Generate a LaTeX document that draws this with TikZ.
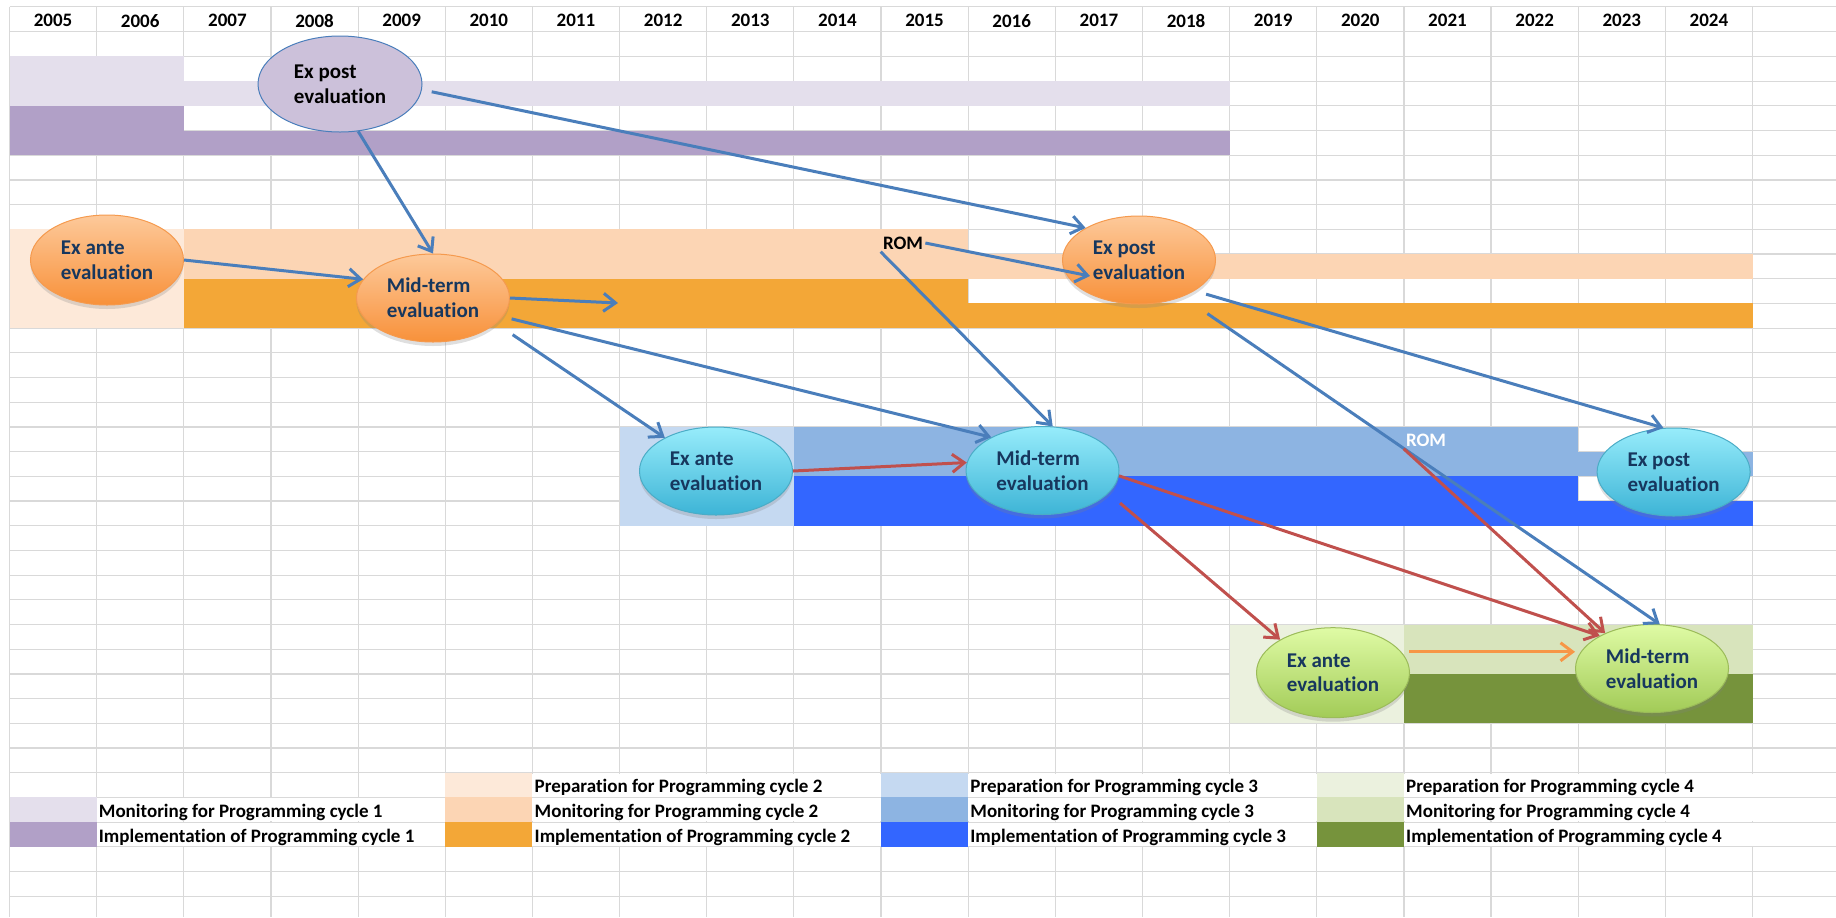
\documentclass[tikz,border=0pt]{standalone}
\usepackage{fontspec}
\setmainfont{Carlito}[Ligatures=NoCommon]
\usetikzlibrary{shapes.geometric,arrows.meta,shadows,calc}

\definecolor{gridgray}{HTML}{D9D9D9}
\definecolor{monone}{HTML}{E4DFEC}
\definecolor{impone}{HTML}{B1A0C7}
\definecolor{preptwo}{HTML}{FDE9D9}
\definecolor{montwo}{HTML}{FCD5B4}
\definecolor{imptwo}{HTML}{F3A737}
\definecolor{prepthree}{HTML}{C5D9F1}
\definecolor{monthree}{HTML}{8DB4E2}
\definecolor{impthree}{HTML}{3366FF}
\definecolor{prepfour}{HTML}{EBF1DE}
\definecolor{monfour}{HTML}{D8E4BC}
\definecolor{impfour}{HTML}{76933C}
\definecolor{linkblue}{HTML}{4A7EBB}
\definecolor{linkred}{HTML}{C0504D}
\definecolor{linkorange}{HTML}{F79646}
\definecolor{evaltext}{HTML}{17375E}
\definecolor{purpleeval}{HTML}{CCC1DA}
\definecolor{orangetop}{HTML}{FDC99A}
\definecolor{orangebot}{HTML}{F8913A}
\definecolor{orangeedge}{HTML}{F59A4E}
\definecolor{cyantop}{HTML}{97ECFB}
\definecolor{cyanbot}{HTML}{3DB4D6}
\definecolor{cyanedge}{HTML}{4BACC6}
\definecolor{greentop}{HTML}{DFFBA5}
\definecolor{greenbot}{HTML}{A2CB57}
\definecolor{greenedge}{HTML}{9BBB59}

% column i starts at 9.5+87.15*i, row k starts at 31.7+24.7*k (pixels)
\newcommand{\gbar}[5]{\fill[#1] ({9.5+87.15*#2},{31.7+24.7*#4}) rectangle ({9.5+87.15*#3},{31.7+24.7*#5});}
% white cell behind a legend text (four columns, one row)
\newcommand{\legcell}[2]{\fill[white] ({9.5+87.15*#1},{31.7+24.7*#2+0.8}) rectangle ({9.5+87.15*(#1+4)},{31.7+24.7*(#2+1)-0.8});}

\begin{document}
\begin{tikzpicture}[x=0.5pt,y=-0.5pt,
  gridline/.style={draw=gridgray, line width=0.6pt},
  year/.style={font=\fontsize{9.5}{11}\selectfont\bfseries},
  legtext/.style={anchor=base west, inner sep=0pt, font=\fontsize{9.5}{11}\selectfont\bfseries},
  rom/.style={inner sep=1pt, font=\fontsize{9.5}{11}\selectfont\bfseries},
  evalnode/.style={ellipse, inner sep=0pt, align=left, line width=0.5pt,
    font=\fontsize{10.5}{12.4}\selectfont\bfseries, text=evaltext,
    minimum width=76.5pt, minimum height=44pt},
  cycleone/.style={evalnode, draw=linkblue, fill=purpleeval, text=black,
    minimum width=82pt, minimum height=48pt},
  cycletwo/.style={evalnode, draw=orangeedge, top color=orangetop, bottom color=orangebot,
    drop shadow={opacity=0.25, shadow xshift=0pt, shadow yshift=-2pt}},
  cyclethree/.style={evalnode, draw=cyanedge, top color=cyantop, bottom color=cyanbot,
    drop shadow={opacity=0.25, shadow xshift=0pt, shadow yshift=-2pt}},
  cyclefour/.style={evalnode, draw=greenedge, top color=greentop, bottom color=greenbot,
    drop shadow={opacity=0.25, shadow xshift=0pt, shadow yshift=-2pt}},
  link/.style={line width=1.5pt, -{Straight Barb[length=6pt,width=9pt]}},
  ]
  \useasboundingbox (0,0) rectangle (1836,917);

  % sheet grid
  \foreach \i in {0,...,20}
    \draw[gridline] ({9.5+87.15*\i},6.5) -- ({9.5+87.15*\i},917);
  \draw[gridline] (9.5,6.5) -- (1836,6.5);
  \foreach \k in {0,...,35}
    \draw[gridline] (9.5,{31.7+24.7*\k}) -- (1836,{31.7+24.7*\k});

  % years
  \foreach \y [count=\i from 0] in {2005,...,2024}
    \node[year] (yr\y) at ({9.5+87.15*(\i+0.5)},20.8) {\y};

  % cycle 1
  \gbar{monone}{0}{2}{1}{3}
  \gbar{monone}{2}{14}{2}{3}
  \gbar{impone}{0}{2}{3}{5}
  \gbar{impone}{2}{14}{4}{5}
  % cycle 2
  \gbar{preptwo}{0}{2}{8}{12}
  \gbar{montwo}{2}{11}{8}{10}
  \gbar{montwo}{11}{20}{9}{10}
  \gbar{imptwo}{2}{11}{10}{12}
  \gbar{imptwo}{11}{20}{11}{12}
  % cycle 3
  \gbar{prepthree}{7}{9}{16}{20}
  \gbar{monthree}{9}{18}{16}{18}
  \gbar{monthree}{18}{20}{17}{18}
  \gbar{impthree}{9}{18}{18}{20}
  \gbar{impthree}{18}{20}{19}{20}
  % cycle 4
  \gbar{prepfour}{14}{16}{24}{28}
  \gbar{monfour}{16}{20}{24}{26}
  \gbar{impfour}{16}{20}{26}{28}

  % legend
  \gbar{monone}{0}{1}{31}{32}
  \gbar{impone}{0}{1}{32}{33}
  \gbar{preptwo}{5}{6}{30}{31}
  \gbar{montwo}{5}{6}{31}{32}
  \gbar{imptwo}{5}{6}{32}{33}
  \gbar{prepthree}{10}{11}{30}{31}
  \gbar{monthree}{10}{11}{31}{32}
  \gbar{impthree}{10}{11}{32}{33}
  \gbar{prepfour}{15}{16}{30}{31}
  \gbar{monfour}{15}{16}{31}{32}
  \gbar{impfour}{15}{16}{32}{33}
  \legcell{1}{31} \legcell{1}{32}
  \legcell{6}{30} \legcell{6}{31} \legcell{6}{32}
  \legcell{11}{30} \legcell{11}{31} \legcell{11}{32}
  \legcell{16}{30} \legcell{16}{31} \legcell{16}{32}
  \node[legtext] (lm1) at (98.5,817.6) {Monitoring for Programming cycle 1};
  \node[legtext] (li1) at (98.5,842.3) {Implementation of Programming cycle 1};
  \node[legtext] (lp2) at (534.3,792.9) {Preparation for Programming cycle 2};
  \node[legtext] (lm2) at (534.3,817.6) {Monitoring for Programming cycle 2};
  \node[legtext] (li2) at (534.3,842.3) {Implementation of Programming cycle 2};
  \node[legtext] (lp3) at (970,792.9) {Preparation for Programming cycle 3};
  \node[legtext] (lm3) at (970,817.6) {Monitoring for Programming cycle 3};
  \node[legtext] (li3) at (970,842.3) {Implementation of Programming cycle 3};
  \node[legtext] (lp4) at (1405.8,792.9) {Preparation for Programming cycle 4};
  \node[legtext] (lm4) at (1405.8,817.6) {Monitoring for Programming cycle 4};
  \node[legtext] (li4) at (1405.8,842.3) {Implementation of Programming cycle 4};

  % evaluations
  \node[cycleone] (p1post) at (340,84) {Ex post\\evaluation};
  \node[cycletwo, minimum height=45pt] (o2ante) at (107,260) {Ex ante\\evaluation};
  \node[cycletwo] (o2mid) at (433,298) {Mid-term\\evaluation};
  \node[cycletwo] (o2post) at (1139,260) {Ex post\\evaluation};
  \node[cyclethree] (c3ante) at (716,471) {Ex ante\\evaluation};
  \node[cyclethree] (c3mid) at (1042.5,470.5) {Mid-term\\evaluation};
  \node[cyclethree] (c3post) at (1673.6,472) {Ex post\\evaluation};
  \node[cyclefour, minimum height=45pt] (g4ante) at (1333,672.7) {Ex ante\\evaluation};
  \node[cyclefour] (g4mid) at (1652,668.5) {Mid-term\\evaluation};
  \node[rom] (rom2) at (903,243) {ROM};
  \node[rom, text=white] (rom3) at (1426,440) {ROM};
  \coordinate (o2end) at (618,303);

  % links
  \draw[link, linkblue, shorten <=5pt] (p1post.-4) -- (o2post.149);
  \draw[link, linkblue] (p1post.-69) -- (o2mid.north);
  \draw[link, linkblue] (o2ante.east) -- (o2mid.165);
  \draw[link, linkblue] (o2mid.east) -- (o2end);
  \draw[link, linkblue, shorten <=4.5pt] (o2mid.-15) -- (c3mid.147);
  \draw[link, linkblue, shorten <=10pt] (o2mid.-22) -- (c3ante.147);
  \draw[link, linkblue] (rom2.east) -- ($(o2post)+(-49,16)$);
  \draw[link, linkblue] (rom2.south west) -- (c3mid.77);
  \draw[link, linkblue, shorten <=6pt] (o2post.-29) -- (c3post.103);
  \draw[link, linkblue, shorten <=15pt] (o2post.-40) -- (g4mid.80);
  \draw[link, linkred] (c3ante.east) -- (c3mid.174);
  \draw[link, linkred] (c3mid.-4) -- (g4mid.148);
  \draw[link, linkred, shorten <=7.5pt] (c3mid.-19) -- (g4ante.148);
  \draw[link, linkred] (rom3.south west) -- (g4mid.143);
  \draw[link, linkorange, shorten <=4pt] (g4ante.17) -- (g4ante.17 -| g4mid.west);
\end{tikzpicture}
\end{document}
